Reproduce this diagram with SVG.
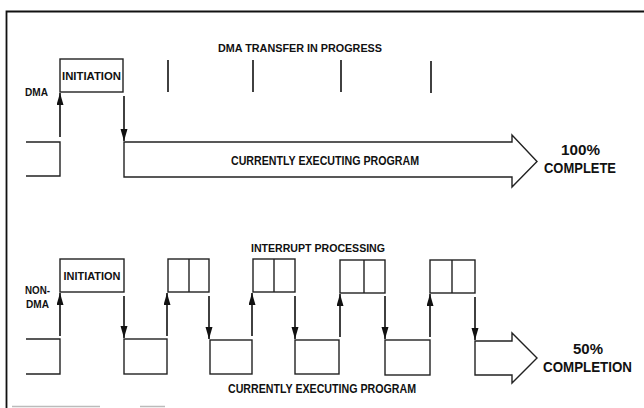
<svg xmlns="http://www.w3.org/2000/svg" width="644" height="408" viewBox="0 0 644 408">
<style>
.t{font-family:"Liberation Sans",Arial,sans-serif;font-weight:bold;fill:#111}
.box{fill:none;stroke:#222;stroke-width:1.4}
.ln{fill:none;stroke:#222;stroke-width:1.4}
.ar{fill:none;stroke:#111;stroke-width:1.6;marker-end:url(#ah)}
.tick{stroke:#111;stroke-width:1.6}
</style>
<defs>
<marker id="ah" markerUnits="userSpaceOnUse" markerWidth="13" markerHeight="8" refX="12" refY="3.5" orient="auto">
<path d="M0,0 L12,3.5 L0,7 z" fill="#111"/>
</marker>
</defs>
<rect width="644" height="408" fill="#fff"/>
<g id="frame">
<path d="M6.5,408 V11.5 H644" fill="none" stroke="#111" stroke-width="1.8"/>
<path d="M12,406.5 H100 M140,406.5 H165" stroke="#bbb" stroke-width="1.5"/>
</g>
<g id="title-dma">
<text class="t" x="218" y="52" font-size="11" textLength="164" lengthAdjust="spacingAndGlyphs">DMA TRANSFER IN PROGRESS</text>
</g>
<g id="label-dma"><text class="t" x="25" y="96" font-size="10" textLength="23" lengthAdjust="spacingAndGlyphs">DMA</text></g>
<g id="dma-prev"><path class="ln" d="M26,142 H60 V176 H26"/></g>
<g id="dma-init">
<rect class="box" x="60" y="59" width="63" height="33"/>
<text class="t" x="91.5" y="80" font-size="11.5" text-anchor="middle" textLength="59" lengthAdjust="spacingAndGlyphs">INITIATION</text>
</g>
<g id="dma-ticks">
<line class="tick" x1="168" y1="60" x2="168" y2="92"/>
<line class="tick" x1="253" y1="60" x2="253" y2="92"/>
<line class="tick" x1="341" y1="60" x2="341" y2="92"/>
<line class="tick" x1="431" y1="61" x2="431" y2="93"/>
</g>
<g id="dma-program">
<path class="ln" d="M124,142 H512 V135 L537,161.5 L512,187 V177 H124 Z"/>
<text class="t" x="325" y="165" font-size="12" text-anchor="middle" textLength="188" lengthAdjust="spacingAndGlyphs">CURRENTLY EXECUTING PROGRAM</text>
</g>
<g id="dma-result">
<text class="t" x="580.5" y="155" font-size="15" text-anchor="middle" textLength="39" lengthAdjust="spacingAndGlyphs">100%</text>
<text class="t" x="580" y="173" font-size="15" text-anchor="middle" textLength="72" lengthAdjust="spacingAndGlyphs">COMPLETE</text>
</g>
<g id="title-int">
<text class="t" x="318" y="252" font-size="11" text-anchor="middle" textLength="134" lengthAdjust="spacingAndGlyphs">INTERRUPT PROCESSING</text>
</g>
<g id="label-nondma">
<text class="t" x="25" y="294" font-size="10" textLength="25" lengthAdjust="spacingAndGlyphs">NON-</text>
<text class="t" x="26" y="308" font-size="10" textLength="23" lengthAdjust="spacingAndGlyphs">DMA</text>
</g>
<g id="nd-prev"><path class="ln" d="M26,339 H60 V374 H26"/></g>
<g id="nd-init">
<rect class="box" x="60" y="259" width="64" height="33"/>
<text class="t" x="92" y="280" font-size="11.5" text-anchor="middle" textLength="57" lengthAdjust="spacingAndGlyphs">INITIATION</text>
</g>
<g id="nd-run1"><rect class="box" x="124" y="339" width="43" height="35"/></g>
<g id="nd-int1"><rect class="box" x="168" y="259" width="41" height="33"/><line class="ln" x1="189" y1="259" x2="189" y2="292"/></g>
<g id="nd-run2"><rect class="box" x="210" y="340" width="42" height="34"/></g>
<g id="nd-int2"><rect class="box" x="253" y="259" width="42" height="33"/><line class="ln" x1="274" y1="259" x2="274" y2="292"/></g>
<g id="nd-run3"><rect class="box" x="295" y="340" width="44" height="34"/></g>
<g id="nd-int3"><rect class="box" x="340" y="260" width="45" height="33"/><line class="ln" x1="364" y1="260" x2="364" y2="293"/></g>
<g id="nd-run4"><rect class="box" x="385" y="340" width="45" height="35"/></g>
<g id="nd-int4"><rect class="box" x="430" y="260" width="45" height="33"/><line class="ln" x1="452" y1="260" x2="452" y2="293"/></g>
<g id="nd-program">
<path class="ln" d="M475,341 H512 V333 L537,358 L512,383 V375 H475 Z"/>
<text class="t" x="322" y="393" font-size="12" text-anchor="middle" textLength="188" lengthAdjust="spacingAndGlyphs">CURRENTLY EXECUTING PROGRAM</text>
</g>
<g id="nd-result">
<text class="t" x="588" y="354" font-size="15" text-anchor="middle" textLength="30" lengthAdjust="spacingAndGlyphs">50%</text>
<text class="t" x="587.5" y="372" font-size="15" text-anchor="middle" textLength="89" lengthAdjust="spacingAndGlyphs">COMPLETION</text>
</g>
<g id="connectors">
<line class="ar" x1="60" y1="137" x2="60" y2="93"/>
<line class="ar" x1="124" y1="96" x2="124" y2="141"/>
<line class="ar" x1="60" y1="336" x2="60" y2="293"/>
<line class="ar" x1="124" y1="296" x2="124" y2="338"/>
<line class="ar" x1="167" y1="336" x2="167" y2="293"/>
<line class="ar" x1="209" y1="296" x2="209" y2="339"/>
<line class="ar" x1="252" y1="336" x2="252" y2="293"/>
<line class="ar" x1="295" y1="296" x2="295" y2="339"/>
<line class="ar" x1="340" y1="337" x2="340" y2="294"/>
<line class="ar" x1="385" y1="296" x2="385" y2="339"/>
<line class="ar" x1="430" y1="337" x2="430" y2="294"/>
<line class="ar" x1="475" y1="297" x2="475" y2="340"/>
</g>
</svg>
